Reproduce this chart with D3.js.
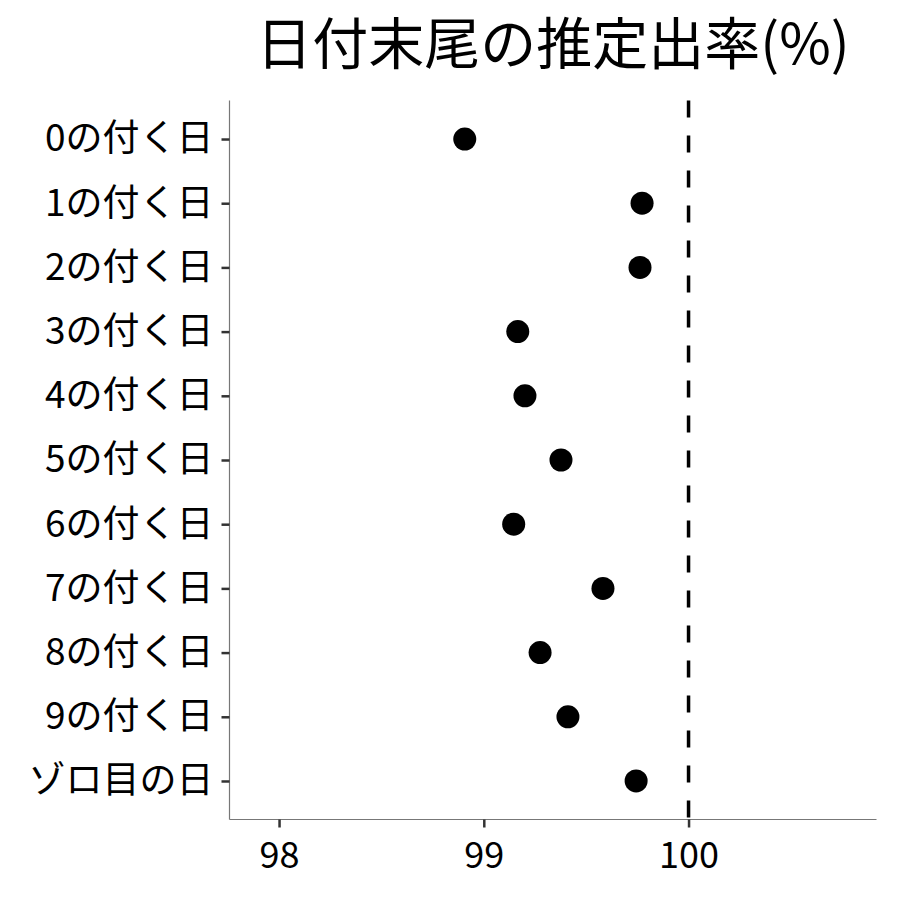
<!DOCTYPE html>
<html><head><meta charset="utf-8">
<script src="https://cdn.jsdelivr.net/npm/d3@7"></script>
<style>body{margin:0;background:#fff;}</style>
</head><body>
<svg id="chart" width="900" height="900"></svg>
<script>
const categories = ["0の付く日","1の付く日","2の付く日","3の付く日","4の付く日","5の付く日","6の付く日","7の付く日","8の付く日","9の付く日","ゾロ目の日"];
const values = [98.907, 99.773, 99.763, 99.166, 99.201, 99.377, 99.146, 99.582, 99.275, 99.411, 99.744];
const xTicks = [98, 99, 100];
const refValue = 100;
const title = "日付末尾の推定出率(%)";

(function(){
const font = "'Noto Sans CJK JP', 'Noto Sans', sans-serif";
const svg = d3.select("#chart");
const pLeft = 229.5, pRight = 876.5, pTop = 100.5, pBottom = 819.5;

const x = d3.scaleLinear().domain([97.758, 100.918]).range([pLeft, pRight]);
const y = d3.scalePoint().domain(categories).range([pTop, pBottom]).padding(0.6);

svg.append("rect").attr("width",900).attr("height",900).attr("fill","#fff");

// reference line
svg.append("line")
  .attr("x1", x(refValue)).attr("x2", x(refValue))
  .attr("y1", pTop).attr("y2", pBottom)
  .attr("stroke", "#000").attr("stroke-width", 3.5)
  .attr("stroke-dasharray", "17,18");

// points
svg.append("g").selectAll("circle").data(values).join("circle")
  .attr("cx", d => x(d))
  .attr("cy", (d,i) => y(categories[i]))
  .attr("r", 11.5).attr("fill", "#000");

// x axis
const gx = svg.append("g").attr("transform", `translate(0,${pBottom})`)
  .call(d3.axisBottom(x).tickValues(xTicks).tickSize(8).tickPadding(15).tickFormat(d3.format("d")));
gx.select(".domain").attr("stroke","#777").attr("stroke-width",1.2).attr("d", `M${pLeft},0H${pRight}`);
gx.selectAll(".tick line").attr("stroke","#333").attr("stroke-width",2.5);
gx.selectAll(".tick text").attr("font-family",font).attr("font-size",36).attr("fill","#000");

// y axis
const gy = svg.append("g").attr("transform", `translate(${pLeft},0)`)
  .call(d3.axisLeft(y).tickSize(8).tickPadding(8));
gy.select(".domain").attr("stroke","#777").attr("stroke-width",1.2).attr("d", `M0,${pTop}V${pBottom}`);
gy.selectAll(".tick line").attr("stroke","#333").attr("stroke-width",2.5);
gy.selectAll(".tick text").attr("font-family",font).attr("font-size",37).attr("fill","#000");

// title
svg.append("text").attr("x",(pLeft+pRight)/2).attr("y",64)
  .attr("text-anchor","middle").attr("font-family",font).attr("font-size",56).attr("fill","#000")
  .text(title);
})();
</script>
</body></html>
